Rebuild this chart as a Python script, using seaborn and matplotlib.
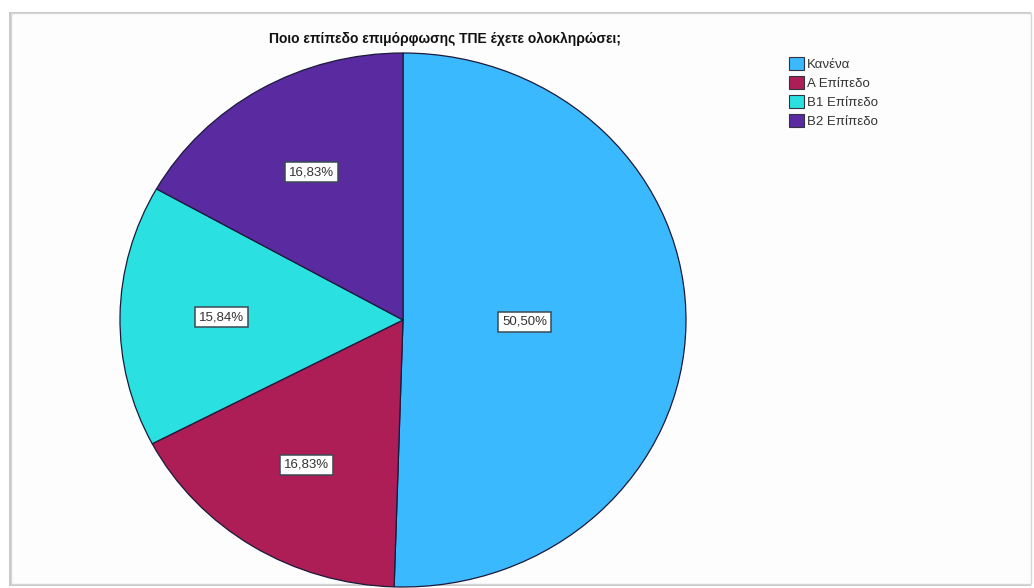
import matplotlib
matplotlib.use("Agg")
import matplotlib.pyplot as plt
import matplotlib.patches as mpatches
import seaborn as sns

categories = ["Κανένα", "Α Επίπεδο", "Β1 Επίπεδο", "Β2 Επίπεδο"]
percentages = [50.50, 16.83, 15.84, 16.83]
slice_colors = ["#3bb9ff", "#ad1d56", "#2be0e0", "#5a2aa0"]
title = "Ποιο επίπεδο επιμόρφωσης ΤΠΕ έχετε ολοκληρώσει;"

sns.set_theme(style="white")
plt.rcParams["font.family"] = ["Liberation Sans", "DejaVu Sans"]

W, H = 1034, 588
fig = plt.figure(figsize=(W / 100, H / 100), dpi=100)
fig.patch.set_facecolor("white")

# panel frame with a soft shadow
shadow = mpatches.Rectangle((9 / W, 1 - 586 / H), 1022 / W, 574 / H,
                            transform=fig.transFigure, facecolor="#c8c8c8",
                            edgecolor="none", zorder=-3)
panel = mpatches.Rectangle((11 / W, 1 - 584 / H), 1020 / W, 571 / H,
                           transform=fig.transFigure, facecolor="#fdfdfd",
                           edgecolor="#d6d6d6", linewidth=1.0, zorder=-2)
fig.patches.extend([shadow, panel])

ax = fig.add_axes([120 / W, 1 / H, 566 / W, 534 / H])
palette = sns.color_palette(slice_colors)

wedges, texts, autotexts = ax.pie(
    percentages,
    colors=palette,
    startangle=90,
    counterclock=False,
    autopct=lambda p: f"{p:.2f}%".replace(".", ","),
    pctdistance=0.64,
    wedgeprops=dict(edgecolor="#1a1a3a", linewidth=0.9),
    textprops=dict(fontsize=9.5, color="#333333"),
)
ax.set_aspect("auto")
ax.set_xlim(-1.0, 1.0)
ax.set_ylim(-1.0, 1.0)
ax.patch.set_alpha(0)

for i, t in enumerate(autotexts):
    if i == 0:
        x, y = t.get_position()
        t.set_position((x * 0.43 / 0.64, y * 0.43 / 0.64))
    t.set_bbox(dict(boxstyle="square,pad=0.3", facecolor="white",
                    edgecolor="#3a4a55", linewidth=1.1))

fig.text(445 / W, 1 - 39 / H, title, ha="center", va="center",
         fontsize=10, fontweight="bold", color="#111111")

handles = [mpatches.Patch(facecolor=c, edgecolor="#333344", linewidth=0.8)
           for c in palette]
fig.legend(handles, categories, loc="upper left",
           bbox_to_anchor=(789 / W, 1 - 57 / H), frameon=False,
           fontsize=9.5, handlelength=1.1, handleheight=1.1,
           handletextpad=0.25, labelspacing=0.4, borderaxespad=0,
           borderpad=0, labelcolor="#333333")

fig.savefig("out.png", dpi=100)
